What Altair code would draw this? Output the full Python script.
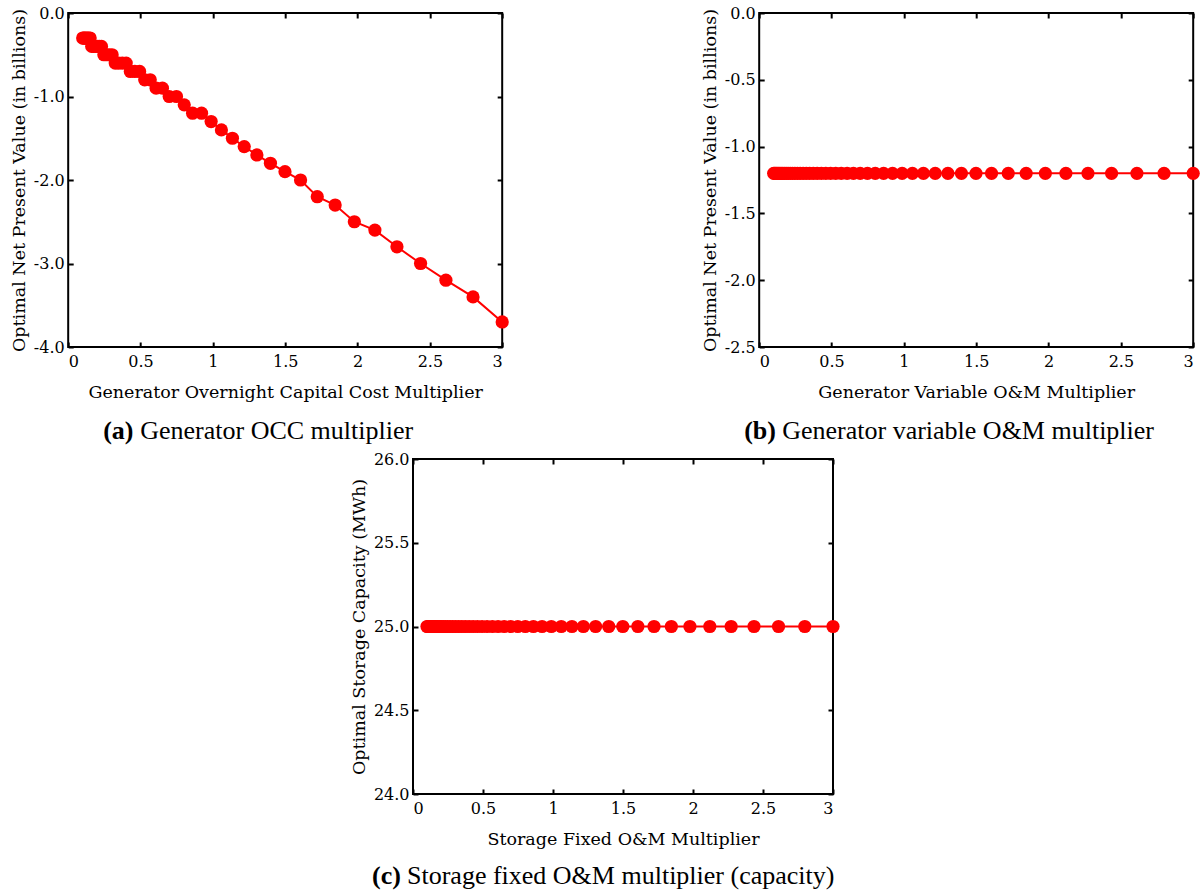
import altair as alt
import pandas as pd

# Multiplier sweep (50 log-spaced steps from 0.1 to 3)
multiplier = [
    0.1000, 0.1072, 0.1149, 0.1232, 0.1320, 0.1415, 0.1517, 0.1626, 0.1742, 0.1868,
    0.2002, 0.2146, 0.2300, 0.2465, 0.2643, 0.2832, 0.3036, 0.3254, 0.3488, 0.3739,
    0.4008, 0.4296, 0.4604, 0.4935, 0.5290, 0.5670, 0.6078, 0.6514, 0.6983, 0.7484,
    0.8022, 0.8599, 0.9218, 0.9881, 1.0591, 1.1352, 1.2168, 1.3043, 1.3980, 1.4985,
    1.6062, 1.7216, 1.8454, 1.9780, 2.1201, 2.2725, 2.4358, 2.6109, 2.7985, 3.0000,
]

# (a) optimal NPV (billions) vs generator overnight capital cost multiplier
npv_occ = [
    -0.3, -0.3, -0.3, -0.3, -0.3, -0.3, -0.3, -0.4, -0.4, -0.4,
    -0.4, -0.4, -0.4, -0.5, -0.5, -0.5, -0.5, -0.6, -0.6, -0.6,
    -0.6, -0.7, -0.7, -0.7, -0.8, -0.8, -0.9, -0.9, -1.0, -1.0,
    -1.1, -1.2, -1.2, -1.3, -1.4, -1.5, -1.6, -1.7, -1.8, -1.9,
    -2.0, -2.2, -2.3, -2.5, -2.6, -2.8, -3.0, -3.2, -3.4, -3.7,
]

# (b) optimal NPV (billions) vs generator variable O&M multiplier
npv_vom = [-1.2] * 50

# (c) optimal storage capacity (MWh) vs storage fixed O&M multiplier
storage_cap = [25.0] * 50

x_ticks = [0, 0.5, 1, 1.5, 2, 2.5, 3]
y_ticks_a = [0.0, -1.0, -2.0, -3.0, -4.0]
y_ticks_b = [0.0, -0.5, -1.0, -1.5, -2.0, -2.5]
y_ticks_c = [24.0, 24.5, 25.0, 25.5, 26.0]

RED = "#ff0000"
AXIS_FONT = "DejaVu Serif"
CAP_FONT = "Liberation Serif"
CAP_SIZE = 26
TICK = 5
Y_LABEL = "replace(format(datum.value, '.1f'), '\u2212', '-')"


def panel(yvals, ydomain, yticks, xtitle, ytitle, w, h, tag, caption, cap_x, cap_gap, cap_y,
          right_margin=0):
    df = pd.DataFrame({"m": multiplier, "v": yvals})
    base = alt.Chart(df)
    xs = alt.Scale(domain=[0, 3], nice=False, zero=False)
    ys = alt.Scale(domain=ydomain, nice=False, zero=False)

    x_main = alt.Axis(
        orient="bottom", values=x_ticks, format="~g", offset=-TICK, tickSize=TICK,
        domain=False, grid=False, title=xtitle, labelPadding=6, titlePadding=14,
    )
    y_main = alt.Axis(
        orient="left", values=yticks, labelExpr=Y_LABEL, offset=-TICK, tickSize=TICK,
        domain=False, grid=False, title=ytitle, labelPadding=4, titlePadding=5,
    )
    x_mirror = alt.Axis(
        orient="top", values=x_ticks, labels=False, offset=-TICK, tickSize=TICK,
        domain=False, grid=False, title=None,
    )
    y_mirror = alt.Axis(
        orient="right", values=yticks, labels=False, offset=-TICK, tickSize=TICK,
        domain=False, grid=False, title=None,
    )

    line = base.mark_line(color=RED, strokeWidth=2).encode(
        x=alt.X("m:Q", scale=xs, axis=x_main),
        y=alt.Y("v:Q", scale=ys, axis=y_main),
    )
    dots = base.mark_circle(color=RED, size=175, opacity=1).encode(
        x=alt.X("m:Q", scale=xs, axis=x_mirror),
        y=alt.Y("v:Q", scale=ys, axis=y_mirror),
    )

    cap_df = pd.DataFrame({"tag": [tag], "caption": [caption]})
    cap_base = alt.Chart(cap_df)
    tag_text = cap_base.mark_text(
        font=CAP_FONT, fontSize=CAP_SIZE, fontWeight="bold", align="left",
        baseline="alphabetic", color="black",
    ).encode(text="tag:N", x=alt.value(cap_x), y=alt.value(cap_y))
    cap_text = cap_base.mark_text(
        font=CAP_FONT, fontSize=CAP_SIZE, align="left", baseline="alphabetic", color="black",
    ).encode(text="caption:N", x=alt.value(cap_x + cap_gap), y=alt.value(cap_y))

    layers = [line, dots, tag_text, cap_text]
    if right_margin:
        # transparent rule that reserves blank space to the right of the panel
        layers.append(cap_base.mark_rule(opacity=0).encode(x=alt.value(w + right_margin)))

    return (
        alt.layer(*layers)
        .resolve_axis(x="independent", y="independent")
        .properties(width=w, height=h)
    )


chart_a = panel(
    npv_occ, [-4, 0], y_ticks_a,
    "Generator Overnight Capital Cost Multiplier",
    "Optimal Net Present Value (in billions)",
    434, 334, "(a)", "Generator OCC multiplier", 35, 37, 426,
)
chart_b = panel(
    npv_vom, [-2.5, 0], y_ticks_b,
    "Generator Variable O&M Multiplier",
    "Optimal Net Present Value (in billions)",
    434, 334, "(b)", "Generator variable O&M multiplier", -15, 38, 426,
)
chart_c = panel(
    storage_cap, [24, 26], y_ticks_c,
    "Storage Fixed O&M Multiplier",
    "Optimal Storage Capacity (MWh)",
    420, 335, "(c)", "Storage fixed O&M multiplier (capacity)", -41, 35, 425,
    right_margin=22,
)

top_row = alt.hconcat(chart_a, chart_b, spacing=190)
chart = (
    alt.vconcat(top_row, chart_c, spacing=5, center=True)
    .properties(padding={"left": 9, "top": 4, "right": 0, "bottom": 0})
    .configure(background="white")
    .configure_view(stroke="black", strokeWidth=2)
    .configure_axis(
        labelFont=AXIS_FONT, labelFontSize=16, labelColor="black",
        titleFont=AXIS_FONT, titleFontSize=17.5, titleColor="black", titleFontWeight="normal",
        tickColor="black", tickWidth=2,
    )
)

chart.save("out.html", embed_options={"renderer": "svg", "actions": False})
